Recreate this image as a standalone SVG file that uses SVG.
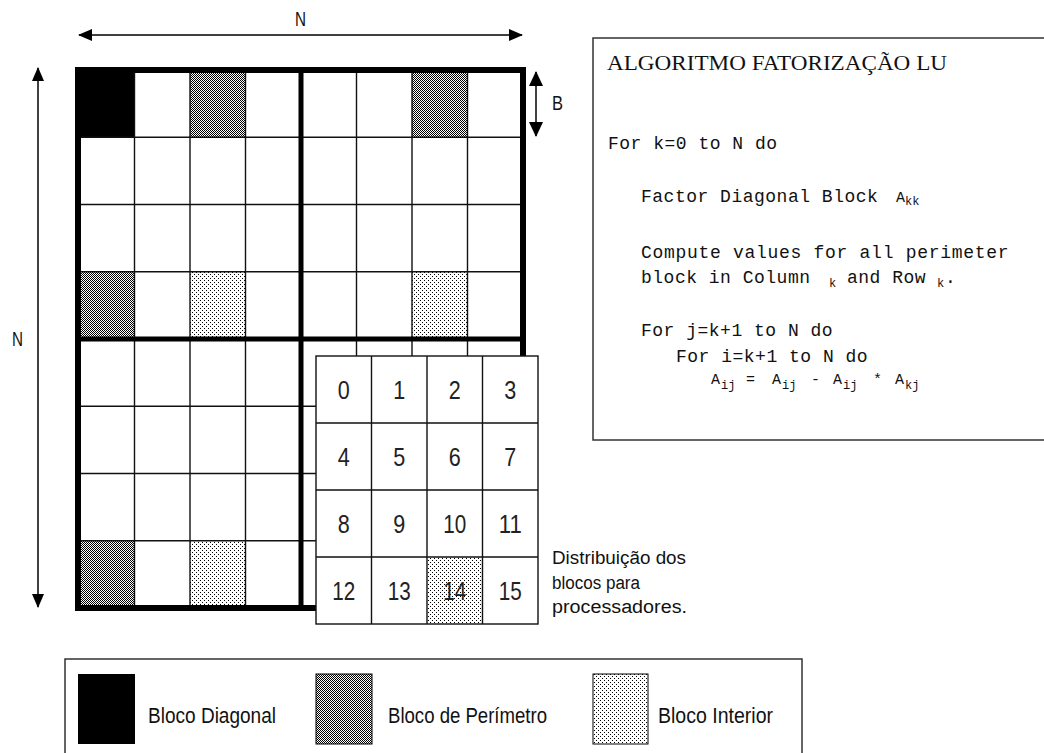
<svg xmlns="http://www.w3.org/2000/svg" width="1044" height="753" viewBox="0 0 1044 753">
<style>
.thin{stroke:#111;stroke-width:1.4;fill:none}
.thick{stroke:#000;fill:none}
.lbl{font-family:"Liberation Sans Narrow","Liberation Sans",Arial,sans-serif;fill:#111}
.code{font-family:"Liberation Mono","Courier New",monospace;font-size:18px;fill:#111;letter-spacing:0.5px}
.sub{font-family:"Liberation Mono","Courier New",monospace;font-size:12px;fill:#111}
.big{font-family:"Liberation Mono","Courier New",monospace;font-size:15px;fill:#111}
.title{font-family:"Liberation Serif","Times New Roman",serif;font-size:21px;fill:#111}
.dig{font-family:"Liberation Sans Narrow","Liberation Sans",Arial,sans-serif;font-size:26px;fill:#222;text-anchor:middle}
.box{fill:#fff;stroke:#333;stroke-width:1.5}
</style>
<defs>
<pattern id="dark" patternUnits="userSpaceOnUse" x="0" y="0" width="2" height="2">
<rect width="2" height="2" fill="#fff"/><rect width="1" height="1" fill="#000"/><rect x="1" y="1" width="1" height="1" fill="#000"/>
</pattern>
<pattern id="light" patternUnits="userSpaceOnUse" x="0" y="0" width="4" height="4">
<rect width="4" height="4" fill="#fff"/><rect width="1" height="1" fill="#000"/><rect x="2" y="2" width="1" height="1" fill="#000"/>
</pattern>
<marker id="ah" markerUnits="userSpaceOnUse" viewBox="0 0 14 12" refX="13" refY="6" markerWidth="14" markerHeight="12" orient="auto-start-reverse">
<path d="M0,0 L14,6 L0,12 Z" fill="#000"/>
</marker>
<marker id="ahB" markerUnits="userSpaceOnUse" viewBox="0 0 15 14" refX="14" refY="7" markerWidth="15" markerHeight="14" orient="auto-start-reverse">
<path d="M0,0 L15,7 L0,14 Z" fill="#000"/>
</marker>
</defs>
<rect width="1044" height="753" fill="#fff"/>

<g id="matrix">
<rect x="78" y="70" width="56.5" height="67.25" fill="#000"/>
<rect x="190" y="70" width="55.5" height="67.25" fill="url(#dark)"/>
<rect x="412" y="70" width="55.5" height="67.25" fill="url(#dark)"/>
<rect x="78" y="271.75" width="56.5" height="67.25" fill="url(#dark)"/>
<rect x="190" y="271.75" width="55.5" height="67.25" fill="url(#light)"/>
<rect x="412" y="271.75" width="55.5" height="67.25" fill="url(#light)"/>
<rect x="78" y="540.75" width="56.5" height="67.25" fill="url(#dark)"/>
<rect x="190" y="540.75" width="55.5" height="67.25" fill="url(#light)"/>
<path class="thin" d="M134.5,70V608M190,70V608M245.5,70V608M356.5,70V608M412,70V608M467.5,70V608M78,137.25H523M78,204.5H523M78,271.75H523M78,406.25H523M78,473.5H523M78,540.75H523"/>
<path class="thick" stroke-width="5" d="M301,70V608M78,339H523"/>
<rect class="thick" x="78" y="70" width="445" height="538" stroke-width="6"/>
</g>

<g id="connectors">
<line x1="79" y1="35" x2="522" y2="35" stroke="#000" stroke-width="1.5" marker-start="url(#ah)" marker-end="url(#ah)"/>
<line x1="38" y1="68" x2="38" y2="607" stroke="#000" stroke-width="1.5" marker-start="url(#ah)" marker-end="url(#ah)"/>
<line x1="536" y1="72" x2="536" y2="136" stroke="#000" stroke-width="1.5" marker-start="url(#ahB)" marker-end="url(#ahB)"/>
</g>

<g id="dim-labels">
<text class="lbl" x="295" y="26" font-size="21" textLength="11" lengthAdjust="spacingAndGlyphs">N</text>
<text class="lbl" x="12" y="346" font-size="21" textLength="11" lengthAdjust="spacingAndGlyphs">N</text>
<text class="lbl" x="552" y="110" font-size="21" textLength="11" lengthAdjust="spacingAndGlyphs">B</text>
</g>

<g id="processors">
<rect x="316" y="356" width="222" height="268" fill="#fff"/>
<rect x="427" y="557" width="55.5" height="67" fill="url(#light)"/>
<path class="thin" d="M371.5,356V624M427,356V624M482.5,356V624M316,423H538M316,490H538M316,557H538"/>
<rect class="thin" x="316" y="356" width="222" height="268"/>
<text class="dig" x="343.75" y="399" textLength="12" lengthAdjust="spacingAndGlyphs">0</text><text class="dig" x="399.25" y="399" textLength="12" lengthAdjust="spacingAndGlyphs">1</text><text class="dig" x="454.75" y="399" textLength="12" lengthAdjust="spacingAndGlyphs">2</text><text class="dig" x="510.25" y="399" textLength="12" lengthAdjust="spacingAndGlyphs">3</text>
<text class="dig" x="343.75" y="466" textLength="12" lengthAdjust="spacingAndGlyphs">4</text><text class="dig" x="399.25" y="466" textLength="12" lengthAdjust="spacingAndGlyphs">5</text><text class="dig" x="454.75" y="466" textLength="12" lengthAdjust="spacingAndGlyphs">6</text><text class="dig" x="510.25" y="466" textLength="12" lengthAdjust="spacingAndGlyphs">7</text>
<text class="dig" x="343.75" y="533" textLength="12" lengthAdjust="spacingAndGlyphs">8</text><text class="dig" x="399.25" y="533" textLength="12" lengthAdjust="spacingAndGlyphs">9</text><text class="dig" x="454.75" y="533" textLength="23" lengthAdjust="spacingAndGlyphs">10</text><text class="dig" x="510.25" y="533" textLength="23" lengthAdjust="spacingAndGlyphs">11</text>
<text class="dig" x="343.75" y="600" textLength="23" lengthAdjust="spacingAndGlyphs">12</text><text class="dig" x="399.25" y="600" textLength="23" lengthAdjust="spacingAndGlyphs">13</text><text class="dig" x="454.75" y="600" textLength="23" lengthAdjust="spacingAndGlyphs">14</text><text class="dig" x="510.25" y="600" textLength="23" lengthAdjust="spacingAndGlyphs">15</text>
</g>

<g id="distribution-note">
<text class="lbl" x="552" y="564" font-size="18" textLength="134" lengthAdjust="spacingAndGlyphs">Distribuição dos</text>
<text class="lbl" x="552" y="589" font-size="18" textLength="88" lengthAdjust="spacingAndGlyphs">blocos para</text>
<text class="lbl" x="552" y="613" font-size="18" textLength="135" lengthAdjust="spacingAndGlyphs">processadores.</text>
</g>

<g id="algorithm">
<rect class="box" x="593" y="38" width="500" height="402"/>
<text class="title" x="607" y="70" textLength="340" lengthAdjust="spacingAndGlyphs">ALGORITMO FATORIZAÇÃO LU</text>
<text class="code" x="608" y="149">For k=0 to N do</text>
<text class="code" x="641" y="202">Factor Diagonal Block</text>
<text class="big" x="896" y="202">A</text><text class="sub" x="905" y="205">kk</text>
<text class="code" x="641" y="258" textLength="368">Compute values for all perimeter</text>
<text class="code" x="641" y="283">block in Column</text>
<text class="sub" x="829" y="287">k</text>
<text class="code" x="847" y="283">and Row</text>
<text class="sub" x="937" y="287">k</text>
<text class="code" x="945" y="283">.</text>
<text class="code" x="641" y="336">For j=k+1 to N do</text>
<text class="code" x="676" y="362">For i=k+1 to N do</text>
<text class="big" x="711" y="384">A</text><text class="sub" x="721" y="389">ij</text>
<text class="big" x="746" y="384">=</text>
<text class="big" x="772" y="384">A</text><text class="sub" x="782" y="389">ij</text>
<text class="big" x="811" y="384">-</text>
<text class="big" x="833" y="384">A</text><text class="sub" x="843" y="389">ij</text>
<text class="big" x="873" y="384">*</text>
<text class="big" x="895" y="384">A</text><text class="sub" x="905" y="389">kj</text>
</g>

<g id="legend">
<rect class="box" x="65" y="659" width="737" height="120"/>
<rect x="78" y="674" width="57" height="70" fill="#000"/>
<rect x="316" y="674" width="56" height="70" fill="url(#dark)" stroke="#000" stroke-width="1"/>
<rect x="593" y="674" width="55" height="70" fill="url(#light)" stroke="#000" stroke-width="1"/>
<text class="lbl" x="148" y="723" font-size="22" textLength="128" lengthAdjust="spacingAndGlyphs">Bloco Diagonal</text>
<text class="lbl" x="388" y="723" font-size="22" textLength="159" lengthAdjust="spacingAndGlyphs">Bloco de Perímetro</text>
<text class="lbl" x="658" y="723" font-size="22" textLength="115" lengthAdjust="spacingAndGlyphs">Bloco Interior</text>
</g>
</svg>
